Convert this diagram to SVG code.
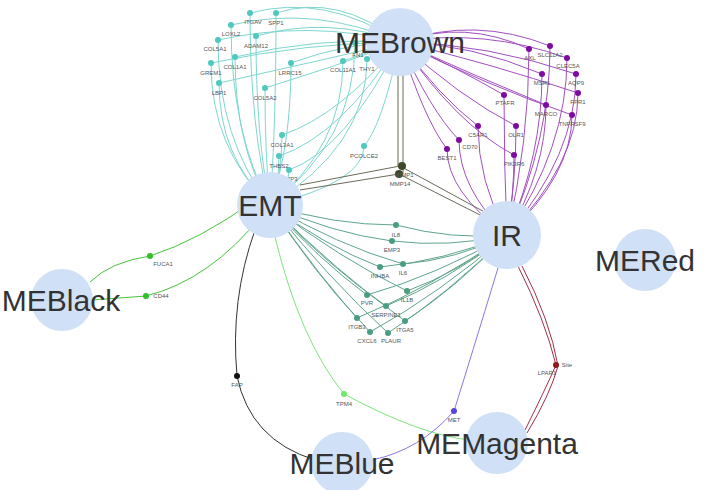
<svg xmlns="http://www.w3.org/2000/svg" width="708" height="490" viewBox="0 0 708 490">
<style>
.hub{fill:#cfe0f7}
.ht{font-family:"Liberation Sans",Arial,sans-serif;font-size:30px;fill:#333;text-anchor:middle}
.t{font-family:"Liberation Sans",Arial,sans-serif;font-size:6px;fill:#555;text-anchor:middle}
.e{fill:none;stroke-width:1}
.tl{stroke:#7fd6d0}.pu{stroke:#a24fc0}.gr{stroke:#5fa58a}.ol{stroke:#6b6b58}
.tn{fill:#4fc9c0}.pn{fill:#7d0ba0}.gn{fill:#4a9e80}
</style>
<rect width="708" height="490" fill="#fff"/>
<g id="connectors">
<g class="e tl">
<path d="M270 205Q250 128 250 13Q325 -7 400 42"/>
<path d="M270 205Q276 128 276 13Q338 -7 400 42"/>
<path d="M270 205Q231 133 231 25Q315 5 400 42"/>
<path d="M270 205Q256 137 256 36Q328 16 400 42"/>
<path d="M270 205Q218 139 218 40Q309 20 400 42"/>
<path d="M270 205Q235 146 235 57Q317 37 400 42"/>
<path d="M270 205Q211 148 211 63Q305 43 400 42"/>
<path d="M270 205Q291 148 291 63Q345 43 400 42"/>
<path d="M270 205Q219 156 219 83Q309 63 400 42"/>
<path d="M270 205Q265 158 265 88Q332 68 400 42"/>
<path d="M270 205Q355 140 355 43Q377 35 400 42"/>
<path d="M270 205Q343 147 343 61Q371 51 400 42"/>
<path d="M270 205Q367 146 367 59Q383 49 400 42"/>
<path d="M270 205Q282 177 282 135Q341 115 400 42"/>
<path d="M270 205Q364 182 364 146Q382 126 400 42"/>
<path d="M270 205Q279 185 279 156Q340 136 400 42"/>
<path d="M270 205Q289 191 289 170Q345 150 400 42"/>
</g>
<g class="e pu">
<path d="M400 42Q465 19 529 49Q529 142 507 235"/>
<path d="M400 42Q475 16 550 46Q550 140 507 235"/>
<path d="M400 42Q484 28 567 58Q567 147 507 235"/>
<path d="M400 42Q471 44 542 74Q542 155 507 235"/>
<path d="M400 42Q488 44 576 74Q576 155 507 235"/>
<path d="M400 42Q452 65 504 95Q504 165 507 235"/>
<path d="M400 42Q489 63 578 93Q578 164 507 235"/>
<path d="M400 42Q473 75 546 105Q546 170 507 235"/>
<path d="M400 42Q486 85 572 115Q572 175 507 235"/>
<path d="M400 42Q439 96 478 126Q478 181 507 235"/>
<path d="M400 42Q458 96 516 126Q516 181 507 235"/>
<path d="M400 42Q430 110 459 140Q459 188 507 235"/>
<path d="M400 42Q424 119 447 149Q447 192 507 235"/>
<path d="M400 42Q457 125 514 155Q514 195 507 235"/>
</g>
<g class="e gr">
<path d="M270 205Q333 225 396 225Q452 240 507 235"/>
<path d="M270 205Q331 233 392 241Q450 248 507 235"/>
<path d="M270 205Q337 245 403 264Q455 260 507 235"/>
<path d="M270 205Q325 246 380 267Q444 261 507 235"/>
<path d="M270 205Q339 258 407 291Q457 273 507 235"/>
<path d="M270 205Q319 260 367 295Q437 275 507 235"/>
<path d="M270 205Q328 266 386 306Q447 281 507 235"/>
<path d="M270 205Q314 272 357 318Q432 287 507 235"/>
<path d="M270 205Q338 273 405 321Q456 288 507 235"/>
<path d="M270 205Q320 279 370 332Q439 294 507 235"/>
<path d="M270 205Q329 279 388 333Q448 294 507 235"/>
</g>
<g class="e ol">
<path d="M398 70L398 166M403 70L403 174"/>
<path d="M300 185L400 166L490 215M300 190L399 174L490 220"/>
</g>
<g class="e">
<path stroke="#46c43c" d="M255 200Q200 240 150 256Q110 262 90 282"/>
<path stroke="#46c43c" d="M262 215Q210 280 146 296L92 300"/>
<path stroke="#333" d="M255 230Q230 300 237 376Q250 440 315 460"/>
<path stroke="#7fe47a" d="M275 237Q300 340 344 394Q420 435 470 440"/>
<path stroke="#8877e6" d="M498 268Q470 360 454 411Q420 450 372 460"/>
<path stroke="#a0304a" d="M518 266Q545 320 556 365Q545 390 525 430M522 266Q550 320 558 366Q550 395 527 433"/>
</g>
</g>
<g id="genes">
<g class="tn">
<circle cx="250" cy="13" r="3"/><circle cx="276" cy="13" r="3"/><circle cx="231" cy="25" r="3"/><circle cx="256" cy="36" r="3"/><circle cx="218" cy="40" r="3"/><circle cx="235" cy="57" r="3"/><circle cx="211" cy="63" r="3"/><circle cx="291" cy="63" r="3"/><circle cx="219" cy="83" r="3"/><circle cx="265" cy="88" r="3"/><circle cx="355" cy="43" r="3"/><circle cx="343" cy="61" r="3"/><circle cx="367" cy="59" r="3"/><circle cx="282" cy="135" r="3"/><circle cx="364" cy="146" r="3"/><circle cx="279" cy="156" r="3"/><circle cx="289" cy="170" r="3"/>
</g>
<g class="pn">
<circle cx="529" cy="49" r="3"/><circle cx="550" cy="46" r="3"/><circle cx="567" cy="58" r="3"/><circle cx="542" cy="74" r="3"/><circle cx="576" cy="74" r="3"/><circle cx="504" cy="95" r="3"/><circle cx="578" cy="93" r="3"/><circle cx="546" cy="105" r="3"/><circle cx="572" cy="115" r="3"/><circle cx="478" cy="126" r="3"/><circle cx="516" cy="126" r="3"/><circle cx="459" cy="140" r="3"/><circle cx="447" cy="149" r="3"/><circle cx="514" cy="155" r="3"/>
</g>
<g class="gn">
<circle cx="396" cy="225" r="3"/><circle cx="392" cy="241" r="3"/><circle cx="403" cy="264" r="3"/><circle cx="380" cy="267" r="3"/><circle cx="407" cy="291" r="3"/><circle cx="367" cy="295" r="3"/><circle cx="386" cy="306" r="3"/><circle cx="357" cy="318" r="3"/><circle cx="405" cy="321" r="3"/><circle cx="370" cy="332" r="3"/><circle cx="388" cy="333" r="3"/>
</g>
<circle cx="402" cy="166" r="4" fill="#3f4a2c"/><circle cx="399" cy="174" r="4" fill="#3f4a2c"/>
<circle cx="150" cy="256" r="3" fill="#2fc02a"/><circle cx="146" cy="296" r="3" fill="#2fc02a"/>
<circle cx="237" cy="376" r="3" fill="#111"/><circle cx="344" cy="394" r="3" fill="#6fe86a"/>
<circle cx="454" cy="411" r="3" fill="#5544dd"/><circle cx="556" cy="365" r="3" fill="#8b1a1a"/>
<g class="t">
<text x="253" y="24">ITGAV</text><text x="276" y="25">SPP1</text><text x="231" y="36">LOXL2</text><text x="256" y="48">ADAM12</text><text x="215" y="51">COL5A1</text><text x="235" y="69">COL1A1</text><text x="211" y="75">GREM1</text><text x="290" y="75">LRRC15</text><text x="219" y="95">LBP1</text><text x="265" y="100">COL5A2</text><text x="358" y="57">FN1</text><text x="343" y="72">COL11A1</text><text x="367" y="71">THY1</text><text x="282" y="147">COL3A1</text><text x="364" y="158">PCOLCE2</text><text x="279" y="168">THBS2</text><text x="289" y="181">MMP3</text>
<text x="405" y="177">MMP1</text><text x="400" y="186">MMP14</text>
<text x="530" y="60">AXL</text><text x="550" y="57">SLC11A2</text><text x="568" y="68">CLEC5A</text><text x="542" y="85">MSR1</text><text x="576" y="85">AQP9</text><text x="505" y="105">PTAFR</text><text x="578" y="104">FPR1</text><text x="546" y="116">MARCO</text><text x="572" y="126">TNFRSF9</text><text x="478" y="137">C5AR1</text><text x="516" y="137">OLR1</text><text x="470" y="149">CD70</text><text x="447" y="160">BEST1</text><text x="514" y="166">PIK3R6</text>
<text x="396" y="237">IL8</text><text x="392" y="252">EMP3</text><text x="403" y="275">IL6</text><text x="380" y="278">INHBA</text><text x="407" y="302">IL1B</text><text x="367" y="305">PVR</text><text x="386" y="317">SERPINE1</text><text x="357" y="329">ITGB3</text><text x="405" y="332">ITGA5</text><text x="367" y="343">CXCL6</text><text x="391" y="343">PLAUR</text>
<text x="163" y="266">FUCA1</text><text x="161" y="298">CD44</text><text x="237" y="387">FAP</text><text x="344" y="406">TPM4</text><text x="454" y="422">MET</text><text x="547" y="375">LPAR1</text><text x="567" y="367">Site</text>
</g>
</g>
<g id="hubs">
<g id="MEBrown"><circle class="hub" cx="400" cy="42" r="34"/><text class="ht" x="400" y="53">MEBrown</text></g>
<g id="EMT"><circle class="hub" cx="270" cy="205" r="33"/><text class="ht" x="270" y="216">EMT</text></g>
<g id="IR"><circle class="hub" cx="507" cy="235" r="34"/><text class="ht" x="507" y="246">IR</text></g>
<g id="MERed"><circle class="hub" cx="645" cy="260" r="31"/><text class="ht" x="645" y="271">MERed</text></g>
<g id="MEBlack"><circle class="hub" cx="62" cy="300" r="31"/><text class="ht" x="61" y="311">MEBlack</text></g>
<g id="MEBlue"><circle class="hub" cx="342" cy="463" r="31"/><text class="ht" x="342" y="474">MEBlue</text></g>
<g id="MEMagenta"><circle class="hub" cx="497" cy="443" r="31"/><text class="ht" x="497" y="454">MEMagenta</text></g>
</g>
</svg>
